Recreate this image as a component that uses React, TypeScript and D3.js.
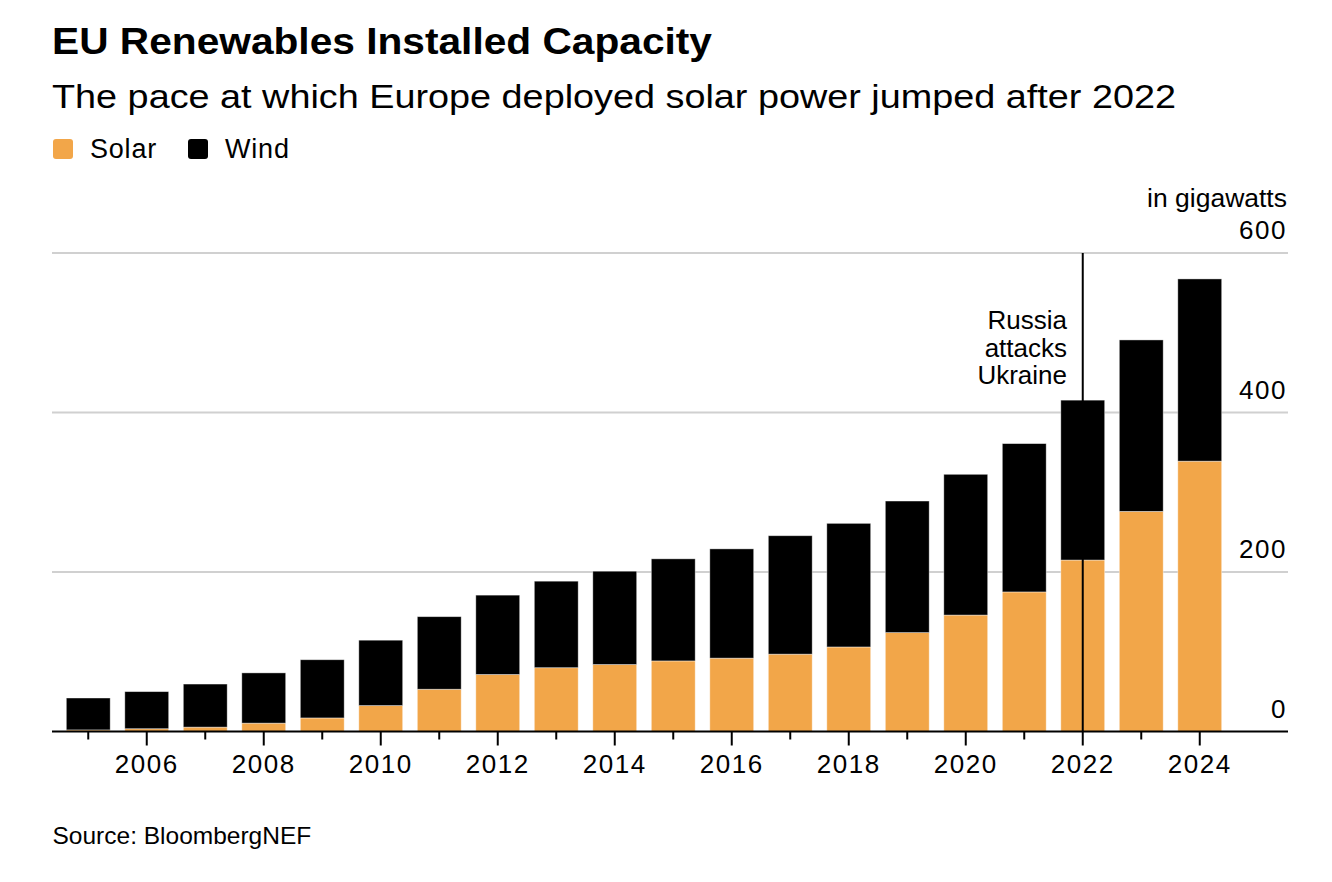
import * as d3 from 'd3';

// EU installed capacity, gigawatts
const years = [2005, 2006, 2007, 2008, 2009, 2010, 2011, 2012, 2013, 2014,
  2015, 2016, 2017, 2018, 2019, 2020, 2021, 2022, 2023, 2024];
const solar = [2, 3.5, 5.5, 10.5, 17, 32.5, 53, 71.5, 80, 84,
  88.5, 92, 97, 106, 124, 146, 175, 215, 276, 339];
const wind = [40, 46.5, 54, 63, 73, 82, 91, 99.5, 108.5, 117,
  128, 137, 148.5, 155, 165, 176.5, 186, 200.5, 215, 228.5];
const yTicks = [0, 200, 400, 600];
const annotationLines = ['Russia', 'attacks', 'Ukraine'];
const annotationYear = 2022;

const W = 1332;
const H = 882;
const FONT = '"Liberation Sans", Arial, Helvetica, sans-serif';
const SOLAR = '#f2a649';
const WIND = '#000000';

export default function App() {
  const left = 52;
  const right = 1288;
  const x = d3.scaleBand<number>()
    .domain(years)
    .range([59, 1229])
    .paddingInner(0.25)
    .paddingOuter(0.125);
  const y = d3.scaleLinear().domain([0, 600]).range([731.5, 253]);

  const rows = years.map((yr, i) => ({ year: yr, solar: solar[i], wind: wind[i] }));
  const stacked = d3.stack<any>().keys(['solar', 'wind'])(rows);
  const colors: Record<string, string> = { solar: SOLAR, wind: WIND };

  const cx = (yr: number) => (x(yr) as number) + x.bandwidth() / 2;
  const annX = cx(annotationYear);

  return (
    <svg width={W} height={H} style={{ position: 'absolute', left: 0, top: 0, background: '#fff' }}
      fontFamily={FONT}>
      <text x={52} y={53.5} fontSize={36} fontWeight="bold" fill="#000"
        textLength={660} lengthAdjust="spacingAndGlyphs">EU Renewables Installed Capacity</text>
      <text x={52} y={107.5} fontSize={34} fill="#000"
        textLength={1124} lengthAdjust="spacingAndGlyphs">The pace at which Europe deployed solar power jumped after 2022</text>

      {/* legend */}
      <rect x={53} y={139} width={20} height={20} rx={3} fill={SOLAR} />
      <text x={90} y={157.5} fontSize={27} letterSpacing={0.8}>Solar</text>
      <rect x={188} y={139} width={20} height={20} rx={3} fill={WIND} />
      <text x={225} y={157.5} fontSize={27} letterSpacing={0.8}>Wind</text>

      {/* grid */}
      {yTicks.filter(t => t > 0).map(t => (
        <line key={t} x1={left} x2={right} y1={y(t)} y2={y(t)} stroke="#d0d0d0" strokeWidth={2} />
      ))}
      {yTicks.map(t => (
        <text key={'l' + t} x={1287} y={y(t) - 14} fontSize={26} textAnchor="end" letterSpacing={1.5}>{t}</text>
      ))}
      <text x={1287} y={206.5} fontSize={26.5} textAnchor="end">in gigawatts</text>

      {/* bars */}
      {stacked.map(layer => (
        <g key={layer.key} fill={colors[layer.key]}>
          {layer.map((d, i) => (
            <rect key={i} x={x(years[i])} width={x.bandwidth()}
              y={y(d[1])} height={y(d[0]) - y(d[1])}
              stroke="#fff" strokeOpacity={0.5} strokeWidth={0.8} />
          ))}
        </g>
      ))}

      {/* annotation */}
      <line x1={annX} x2={annX} y1={y(600)} y2={y(0)} stroke="#000" strokeWidth={2} />
      {annotationLines.map((s, i) => (
        <text key={s} x={1067} y={329 + i * 27.7} fontSize={26} textAnchor="end">{s}</text>
      ))}

      {/* x axis */}
      <line x1={left} x2={right} y1={y(0)} y2={y(0)} stroke="#000" strokeWidth={2} />
      {years.map(yr => (
        <line key={yr} x1={cx(yr)} x2={cx(yr)} y1={y(0)} y2={y(0) + (yr % 2 === 0 ? 14 : 8)}
          stroke="#000" strokeWidth={2} />
      ))}
      {years.filter(yr => yr % 2 === 0).map(yr => (
        <text key={'t' + yr} x={cx(yr)} y={772.5} fontSize={26} textAnchor="middle" letterSpacing={1.5}>{yr}</text>
      ))}

      <text x={52.5} y={843.5} fontSize={24.5}>Source: BloombergNEF</text>
    </svg>
  );
}
